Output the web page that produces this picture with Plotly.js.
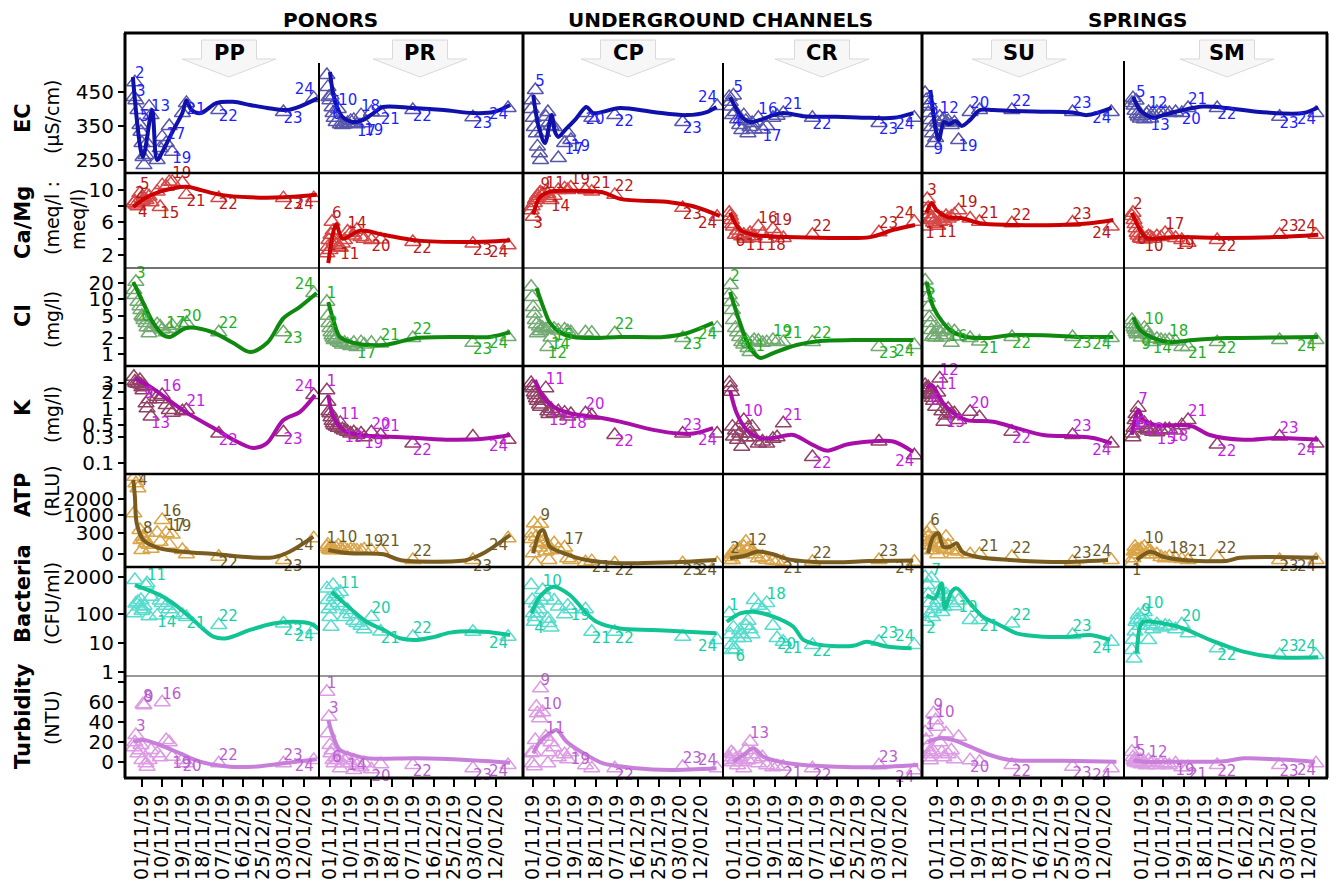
<!DOCTYPE html>
<html><head><meta charset="utf-8">
<script src="https://cdn.plot.ly/plotly-3.0.1.min.js"></script>
<style>html,body{margin:0;padding:0;background:#fff}</style>
</head><body><div id="chart" style="width:1330px;height:880px"></div>
<script>
// ================= DATA =================
var dateLabels = ['01/11/19','10/11/19','19/11/19','18/11/19','07/11/19','16/12/19','25/12/19','03/01/20','12/01/20'];
var dateTickPos = [0,1,2,3,4,5,6,7,8];

// sample positions (samples 1..24) on the date axis, per site
var xPP = [-0.4,-0.35,-0.3,-0.2,-0.1,-0.05,0.0,0.05,0.1,0.2,0.25,0.35,0.45,0.75,0.9,1.0,1.2,1.35,1.5,2.0,2.2,3.8,7.0,8.5];
var xPR = [-0.15,-0.1,-0.05,0.0,0.05,0.1,0.15,0.2,0.3,0.4,0.5,0.6,0.7,0.85,1.0,1.15,1.3,1.5,1.65,2.0,2.45,4.0,6.9,8.6];
var xCP = [-0.1,-0.05,0.0,0.05,0.1,0.15,0.2,0.3,0.35,0.45,0.6,0.7,0.75,0.85,1.0,1.2,1.5,1.65,1.8,2.5,2.8,3.9,7.15,8.8];
var xCR = [-0.2,-0.15,-0.1,-0.05,0.0,0.1,0.2,0.3,0.4,0.5,0.6,0.7,0.8,0.9,1.0,1.2,1.4,1.6,1.9,2.1,2.4,3.8,7.0,8.7];
var xSU = [-0.55,-0.5,-0.45,-0.4,-0.35,-0.3,-0.25,-0.2,-0.15,-0.05,0.05,0.15,0.25,0.35,0.45,0.55,0.7,0.85,1.05,1.6,2.05,3.6,6.5,8.35];
var xSM = [-0.5,-0.45,-0.4,-0.35,-0.3,-0.25,-0.2,-0.1,-0.05,0.1,0.2,0.3,0.4,0.5,0.7,0.9,1.1,1.3,1.6,1.9,2.2,3.6,6.6,8.35];

// ---- EC (µS/cm)
var ecPP = [435,479,426,397,353,333,300,259,235,265,300,407,382,250,285,318,300,350,274,388,418,397,391,432];
var ecPPlx = [-0.45,0.05,0.5,0.75,1.05,1.55,2.0,2.2,2.45,2.9,3.7,4.5,5.35,6.2,7.2,7.8,8.7];
var ecPPly = [494,259,397,250,279,338,388,426,397,388,418,421,412,403,397,407,432];
var ecPPlab = [2,3,5,13,17,19,21,22,23,24];
var ecPR = [500,465,435,426,440,405,388,374,362,400,355,353,355,359,365,368,355,382,358,391,390,397,376,403];
var ecPRlx = [0,0.15,0.4,0.65,1.1,1.6,2.1,2.55,4.0,5.5,6.9,7.9,8.7];
var ecPRly = [509,447,397,374,362,368,388,406,403,397,388,391,412];
var ecPRlab = [5,6,10,17,18,19,21,22,23,24];
var ecCP = [400,426,374,347,456,329,290,270,250,330,377,391,360,350,347,256,300,330,309,388,374,382,362,409];
var ecCPlx = [0.0,0.24,0.56,0.88,1.04,1.2,1.52,2.0,2.55,2.87,4.15,5.74,7.34,8.3,8.77];
var ecCPly = [441,353,300,382,333,318,338,368,406,388,403,391,382,391,406];
var ecCPlab = [5,17,19,20,22,23,24];
var ecCR = [435,421,407,382,440,391,370,353,338,382,365,329,347,359,340,374,340,350,374,380,388,374,359,374];
var ecCRlx = [-0.16,0.4,0.8,1.28,1.92,2.4,3.37,4.97,6.57,7.7,8.65];
var ecCRly = [435,377,362,368,382,388,379,377,374,374,388];
var ecCRlab = [4,5,16,17,21,22,23,24];
var ecSU = [447,426,407,388,415,368,347,329,300,315,360,377,365,370,360,365,353,360,309,391,397,397,391,391];
var ecSUlx = [-0.3,0.1,0.35,0.6,0.9,1.2,1.6,2.07,2.7,3.7,5.0,6.5,7.2,8.37];
var ecSUly = [456,309,362,355,365,350,368,397,397,394,392,390,382,403];
var ecSUlab = [1,5,9,12,19,20,22,23,24];
var ecSM = [418,432,410,395,425,385,378,372,380,370,385,391,372,388,391,391,391,388,391,388,403,403,377,388];
var ecSMlx = [-0.43,-0.11,0.53,1.0,1.96,2.93,4.06,5.66,7.74,8.46];
var ecSMly = [436,397,374,382,397,407,403,391,388,405];
var ecSMlab = [5,12,13,20,21,22,23,24];

// ---- Ca/Mg (meq/l : meq/l)
var caPP = [8.4,8.6,8.2,8.0,9.6,9.0,8.6,8.8,9.0,8.77,9.4,9.2,8.5,9.8,7.9,10.6,10.4,11.0,11.0,10.9,9.4,9.0,9.0,9.0];
var caPPlx = [-0.43,0.23,0.9,2.2,2.9,3.9,5.35,7.0,8.65];
var caPPly = [7.9,9.1,9.8,10.4,10.0,9.4,9.1,9.1,9.4];
var caPPlab = [2,4,5,15,19,21,22,23,24];
var caPR = [2.2,3.0,3.85,2.6,4.5,6.1,5.0,3.6,3.2,3.0,2.9,3.4,3.85,4.9,4.7,4.4,5.1,4.2,4.0,3.85,3.9,3.6,3.4,3.2];
var caPRlx = [-0.08,0.3,0.6,1.45,2.58,4.19,6.6,8.7];
var caPRly = [1.0,5.8,4.0,5.0,4.5,3.8,3.6,3.8];
var caPRlab = [1,6,11,14,20,22,23,24];
var caCP = [7.5,8.0,6.7,8.4,8.8,9.0,9.3,9.6,9.7,9.5,9.8,9.5,9.0,8.77,9.3,10.0,10.2,10.0,10.3,10.0,9.8,9.4,7.8,6.7];
var caCPlx = [0,0.32,0.8,1.75,3.35,4.15,6.54,7.66,8.93];
var caCPly = [7.0,9.1,9.8,9.9,9.7,8.9,8.5,8.0,6.8];
var caCPlab = [3,9,11,14,19,21,22,23,24];
var caCR = [7.2,6.8,6.3,5.8,5.5,4.5,5.0,4.6,4.3,4.5,4.0,4.3,4.7,4.1,4.3,5.5,4.6,4.0,5.2,4.5,4.1,4.5,4.8,6.1];
var caCRlx = [-0.16,0.32,0.96,2.56,4.97,6.57,7.69,8.73];
var caCRly = [7.2,5.1,4.5,4.2,4.1,4.2,5.1,5.7];
var caCRlab = [6,11,16,18,19,22,23,24];
var caSU = [5.5,7.5,8.9,7.8,7.0,6.5,6.3,6.6,6.0,5.8,5.6,6.1,6.5,6.2,6.8,6.5,6.7,7.0,7.5,6.5,6.1,5.9,6.0,5.5];
var caSUlx = [-0.48,-0.24,0,0.48,1.28,2.07,3.5,5.9,7.34,8.45];
var caSUly = [7.2,8.4,7.5,6.7,6.5,5.9,5.7,5.7,5.9,6.3];
var caSUlab = [1,3,11,19,21,22,23,24];
var caSM = [6.8,7.2,6.3,5.8,5.3,4.7,4.4,4.1,4.0,3.9,4.1,4.3,4.2,4.0,4.3,4.2,4.7,4.4,4.1,3.85,3.5,3.85,4.5,4.5];
var caSMlx = [-0.51,-0.11,0.21,1.65,4.05,6.46,8.46];
var caSMly = [7.2,5.1,4.1,4.2,4.1,4.2,4.5];
var caSMlab = [2,6,10,17,19,22,23,24];

// ---- Cl (mg/l)
var clPP = [14.8,12,21,9,7.5,6.4,5,4.7,4.2,3.7,3.1,2.4,3.0,3.5,3.2,2.8,2.5,2.9,3.3,3.4,3.7,2.5,2.5,13];
var clPPlx = [-0.43,0.07,0.56,1.06,1.39,2.2,3.5,4.5,5.35,6.2,7.0,7.8,8.65];
var clPPly = [20.7,8.5,3.7,2.2,2.05,3.0,2.5,1.6,1.09,1.6,4.5,7.2,13];
var clPPlab = [3,6,17,20,22,23,24];
var clPR = [9,5,3.7,3.0,2.5,2.2,2.0,1.8,1.9,1.7,1.6,1.5,1.6,1.5,1.4,1.6,1.35,1.65,1.5,1.6,1.55,1.96,1.6,2.05];
var clPRlx = [-0.08,0.16,0.48,1.13,2.58,4.19,6.6,7.73,8.7];
var clPRly = [8.9,4.2,2.05,1.6,1.46,1.96,2.05,2.05,2.5];
var clPRlab = [1,2,17,21,22,23,24];
var clCP = [17,11,7.2,5.5,4.2,3.5,2.4,3.2,2.6,3.0,2.8,1.35,3.1,2.0,2.9,2.7,2.8,2.6,2.5,2.5,2.45,2.4,1.96,3.0];
var clCPlx = [0.16,0.48,0.8,1.28,1.91,2.87,4.15,6.22,7.34,8.61];
var clCPly = [16,7.2,3.7,2.5,2.05,1.96,2.05,2.05,2.4,3.7];
var clCPlab = [12,14,15,22,23,24];
var clCR = [12,18.3,8.9,6.4,4.2,3.0,2.5,2.05,1.65,1.5,1.8,1.29,1.09,1.65,1.8,1.75,1.6,1.65,1.8,1.7,1.65,1.65,1.35,1.46];
var clCRlx = [-0.16,0.32,0.8,1.28,1.92,3.04,4.17,5.77,8.65];
var clCRly = [13.6,3.7,1.29,0.85,1.04,1.46,1.73,1.8,1.8];
var clCRlab = [2,8,11,19,21,22,23,24];
var clSU = [22,16,10.6,7.2,4.7,3.7,2.75,2.05,2.2,2.0,2.9,2.5,2.0,2.8,2.2,2.75,1.6,2.6,2.1,1.96,1.7,2.05,2.05,1.96];
var clSUlx = [-0.48,-0.16,0.32,0.8,1.44,2.4,3.5,5.1,6.7,8.45];
var clSUly = [20.7,7.2,3.7,2.5,2.05,1.96,2.2,2.2,2.05,2.05];
var clSUlab = [2,16,21,22,23,24];
var clSM = [4.2,3.5,3.1,2.8,2.5,2.3,2.9,2.4,2.0,3.0,2.6,2.2,1.9,1.65,1.9,1.8,1.75,1.8,1.7,1.35,1.35,1.65,1.8,1.8];
var clSMlx = [-0.43,-0.11,0.53,1.33,2.45,4.05,6.46,8.46];
var clSMly = [4.7,2.75,1.96,1.65,1.8,1.96,2.0,2.05];
var clSMlab = [9,10,14,18,21,22,24];

// ---- K (mg/l)
var kPP = [3.9,3.2,3.0,2.9,3.4,2.8,2.5,2.2,2.6,1.26,1.02,1.5,0.72,1.67,1.5,1.8,1.17,0.95,0.85,0.9,0.95,0.35,0.37,1.8];
var kPPlx = [-0.35,0.4,1.22,2.21,3.7,4.52,5.51,6.17,7.0,7.82,8.56];
var kPPly = [3.6,2.56,1.55,0.85,0.41,0.27,0.19,0.23,0.62,0.88,1.8];
var kPPlab = [9,13,16,21,22,23,24];
var kPR = [2.2,1.35,0.9,0.83,0.7,0.6,0.54,0.5,0.47,0.45,0.55,0.42,0.4,0.38,0.35,0.37,0.33,0.35,0.3,0.37,0.33,0.23,0.31,0.27];
var kPRlx = [-0.08,0.16,0.64,1.45,2.58,4.19,5.8,7.4,8.7];
var kPRly = [1.8,0.72,0.41,0.33,0.31,0.29,0.27,0.28,0.33];
var kPRlab = [1,11,13,19,20,21,22,24];
var kCP = [3.0,2.6,2.4,2.0,1.8,1.56,1.4,1.2,1.09,1.5,2.4,0.9,0.8,1.0,0.83,0.9,0.85,0.72,0.8,0.83,0.75,0.33,0.35,0.35];
var kCPlx = [0.08,0.48,0.96,1.75,3.35,4.15,5.74,7.0,7.66,8.61];
var kCPly = [3.4,1.67,1.09,0.83,0.67,0.58,0.41,0.35,0.35,0.44];
var kCPlab = [11,13,18,20,22,23,24];
var kCR = [3.0,2.5,2.07,0.47,0.31,0.4,0.27,0.35,0.2,0.62,0.3,0.45,0.35,0.47,0.3,0.23,0.25,0.23,0.28,0.3,0.54,0.13,0.25,0.14];
var kCRlx = [-0.16,0.16,0.64,1.28,1.92,2.88,3.69,4.49,5.45,6.57,7.69,8.65];
var kCRly = [2.2,0.83,0.41,0.29,0.29,0.33,0.23,0.17,0.22,0.25,0.25,0.16];
var kCRlab = [10,21,22,24];
var kSU = [2.75,2.4,2.2,2.5,2.0,1.9,1.8,1.6,1.4,1.09,2.0,3.6,0.9,0.58,0.75,1.0,0.8,0.83,0.62,0.88,0.7,0.38,0.33,0.23];
var kSUlx = [-0.48,-0.24,0.32,0.8,1.44,2.71,3.83,5.1,6.7,7.5,8.37];
var kSUly = [2.4,2.75,1.26,0.83,0.62,0.58,0.44,0.33,0.31,0.29,0.23];
var kSUlab = [6,11,12,15,20,22,23,24];
var kSM = [0.35,0.3,0.45,0.62,0.8,0.7,1.05,0.55,0.5,0.55,0.42,0.4,0.45,0.38,0.37,0.4,0.42,0.42,0.4,0.5,0.62,0.22,0.31,0.23];
var kSMlx = [-0.51,-0.19,0.05,0.69,1.97,2.45,3.25,4.86,6.46,8.46];
var kSMly = [0.33,0.95,0.62,0.5,0.5,0.47,0.33,0.27,0.29,0.27];
var kSMlab = [1,6,7,10,15,18,21,22,23,24];

// ---- ATP (RLU)
var atpPP = [1084,3886,3252,2810,380,132,12,200,150,80,300,60,20,300,100,759,285,60,250,12,0,-4,-21,165];
var atpPPlx = [-0.43,-0.35,-0.26,0.07,0.89,2.05,3.7,5.35,6.5,7.3,8.48];
var atpPPly = [3563,2140,620,132,23,4.4,0,-6,-6,4,200];
var atpPPlab = [4,8,16,17,19,22,23,24];
var atpPR = [37,60,20,12,30,10,20,15,25,50,15,10,20,8,15,12,10,8,15,10,12,-21,-21,165];
var atpPRlx = [-0.08,0.97,2.58,3.38,4.99,6.6,7.4,8.7];
var atpPRly = [12,0.6,0,-21,-35,-21,0.6,240];
var atpPRlab = [1,10,19,21,22,23,24];
var atpCP = [150,285,0.6,620,-52,200,80,30,600,100,5,60,-21,10,80,20,30,-10,-21,-40,-30,-52,-52,-52];
var atpCPlx = [0,0.32,0.48,0.8,1.44,2.55,4.15,5.74,7.34,8.77];
var atpCPly = [0.6,330,380,37,1,-21,-52,-45,-35,-21];
var atpCPlab = [9,17,21,22,23,24];
var atpCR = [-21,-5,0,-21,5,0,12,20,0,37,102,20,30,5,0,-10,-5,-20,-25,-30,-35,-35,-21,-35];
var atpCRlx = [-0.16,0.5,1.2,1.9,2.6,3.7,5.0,6.5,8.65];
var atpCRly = [-10,-2,5,0,-15,-35,-40,-30,-25];
var atpCRlab = [2,12,21,22,23,24];
var atpSU = [132,60,285,200,100,436,50,10,150,80,0,30,80,20,200,50,10,0,5,0,0,-4,-35,-21];
var atpSUlx = [-0.4,-0.16,0.08,0.32,0.64,0.96,1.2,1.91,3.5,5.1,6.7,8.2];
var atpSUly = [0.6,200,285,37,37,78,5,-4,-21,-35,-35,-21];
var atpSUlab = [6,21,22,23,24];
var atpSM = [-52,-10,5,37,10,0,12,5,20,37,0,10,5,0,0,-5,-10,-4,-10,-15,-21,-4,-21,-21];
var atpSMlx = [-0.27,0.37,1.01,1.97,4.05,4.7,8.46];
var atpSMly = [-21,4,-4,-21,-28,-8,-8];
var atpSMlab = [1,10,18,21,22,23,24];

// ---- Bacteria (CFU/ml)
var bacPP = [108,1566,240,270,186,316,130,150,200,1000,1200,85,410,90,300,250,200,150,108,95,80,42.6,48,28.6];
var bacPPlx = [-0.35,0.89,1.55,2.54,3.53,4.19,5.35,6.5,7.5,8.3,8.8];
var bacPPly = [1047,471,240,63,16.6,14.6,28.6,48,55,48,28.6];
var bacPPlab = [11,14,21,22,23,24];
var bacPR = [800,316,150,80,37,200,1047,400,500,250,600,190,80,140,100,60,50,40,30,80,25,16.6,24.8,16.6];
var bacPRlx = [0.08,0.97,1.77,2.58,3.38,4.19,5.0,5.8,7.4,8.7];
var bacPRly = [613,162,55,28.6,14.6,12.8,16,23,24.8,19];
var bacPRlab = [11,20,21,22,24];
var bacCP = [1047,316,108,55,80,240,108,150,300,700,410,70,50,35,300,186,100,200,150,150,24.8,24.8,16.6,12.8];
var bacCPlx = [-0.08,0.32,0.96,1.75,2.55,3.03,4.15,5.74,7.34,8.77];
var bacCPly = [108,410,916,471,108,55,32,28.6,24.8,21.7];
var bacCPlab = [4,10,19,21,22,24];
var bacCR = [108,20,8.6,5.7,35,6,15,28,20,15,40,60,30,20,316,200,150,250,40,15,11,8.6,11,8.6];
var bacCRlx = [-0.32,0.32,0.96,1.92,2.88,3.37,4.17,5.77,6.41,7.37,8.57];
var bacCRly = [55,108,123,83,37,12.8,8.6,8,11,7.5,6.5];
var bacCRlab = [1,6,18,20,21,22,23,24];
var bacSU = [2000,55,1047,500,250,108,1800,80,150,200,316,700,120,180,500,410,250,190,300,63,63,48,19,11];
var bacSUlx = [-0.48,-0.08,0.24,0.4,0.7,0.96,1.6,2.2,2.87,3.83,5.1,6.4,7.34,8.3];
var bacSUly = [471,362,1200,160,600,800,240,83,48,21.7,16.6,16.6,19,12.8];
var bacSUlab = [2,7,19,21,22,23,24];
var bacSM = [5.7,13,2.9,25,55,65,95,40,70,120,55,12.8,40,30,45,35,40,38,30,45,21.7,6.5,3.8,3.8];
var bacSMlx = [-0.27,-0.11,0.05,1.01,1.97,3.25,4.86,6.46,8.46];
var bacSMly = [4.4,37,55,48,32.5,12.8,5,3.2,3.2];
var bacSMlab = [9,10,20,22,23,24];

// ---- Turbidity (NTU)
var turPP = [15,20,27.3,9,12,17.3,2.3,58,57,-1,-4.4,2.3,12.3,9,5,60,22.3,20,5.6,2.3,-1,-1,-1,2.3];
var turPPlx = [-0.43,0.07,0.89,1.88,2.87,4.36,5.5,7.0,8.65];
var turPPly = [20.6,22.3,17.3,9,0.6,-4.4,-4.4,-1,3];
var turPPlab = [3,8,9,16,19,20,22,23,24];
var turPR = [70.6,29,45.6,17.3,9,12,2.3,-1,5,2.3,-6,-1,2,4,-1,-7.7,-3,-5,-1,-7,-2,-2.7,-6,-2.7];
var turPRlx = [-0.08,0.16,0.48,1.13,1.77,4.19,6.6,8.7];
var turPRly = [42.3,25.6,12.3,7.3,4,4,2.3,-0.4];
var turPRlab = [1,3,6,14,20,22,23,24];
var turCP = [9,-1,10,-4,22.3,55.6,49,44,74,50,25.6,-1,10,20,15,5,8,3,10,-3,-6,-6,-4.4,-6];
var turCPlx = [0,0.32,0.8,1.12,1.6,2.55,3.35,4.94,6.54,8.77];
var turCPly = [9,20.6,29,32.3,20.6,7.3,-1,-6,-7.7,-6];
var turCPlab = [9,10,11,19,22,23,24];
var turCR = [5,2,10,0,8,3,-3,5,0,-6,12.3,2,20.6,8,3,-1,5,-3,-5,-4,-4.4,-6,-3,-8];
var turCRlx = [0,0.48,0.96,1.44,2.24,3.37,4.97,6.57,8.89];
var turCRly = [0.6,7.3,14,5.6,0.6,-2.7,-4.4,-5,-2.7];
var turCRlab = [13,21,22,23,24];
var turSU = [30,22.3,15,5,10,2,8,12,49,42,35.6,20,10,5,29,8,12,3,25.6,2,0.6,-2.7,-4.4,-6];
var turSUlx = [-0.4,0.16,0.8,1.6,2.55,3.5,5.1,6.7,8.6];
var turSUly = [20.6,24,22.3,15.6,7.3,2.3,1.6,1.3,0.6];
var turSUlab = [1,9,10,20,22,23,24];
var turSM = [10.6,5,2,0,3,0,-1,2,-2,0,-3,2,-1,0,-3,-1,-2,-3,-1,-5,-5,-2.7,-2.7,-1];
var turSMlx = [-0.43,0.05,1.65,3.25,4.05,4.86,6.46,8.3];
var turSMly = [2.3,0.6,0.6,0.6,1.3,4,3,0.6];
var turSMlab = [1,5,12,19,21,22,23,24];

// y tick values / labels
var ecTicks = [250,350,450];
var caTicks = [2,4,6,8,10];
var caTickText = ['2','','6','','10'];
var clTicks = [1,2,5,10,20];
var kTicks = [0.1,0.3,0.5,1,2,3];
var atpTicks = [0,300,1000,2000];
var bacTicks = [1,10,100,2000];
var turTicks = [0,20,40,60,80];
var turTickText = ['0','20','40','60',''];

var siteNames = ['PP','PR','CP','CR','SU','SM'];
var groupNames = ['PONORS','UNDERGROUND CHANNELS','SPRINGS'];
var rowTitles = ['EC','Ca/Mg','Cl','K','ATP','Bacteria','Turbidity'];

// ================= LAYOUT / STYLE =================
const W = 1330, H = 880;
const FONT = 'DejaVu Sans';
const PX = x => x / W, PY = y => 1 - y / H;
const rowKeys = ['ec','ca','cl','k','atp','bac','tur'];
const rowPx = [[33,173],[173,268],[268,366],[366,474],[474,567],[567,676],[676,778]];
const colPx = [[125,319],[319,523],[523,723],[723,922],[922,1124],[1124,1327]];
const colRange = [[-0.84,8.76],[-0.53,9.32],[-0.49,9.08],[-0.50,9.07],[-0.70,8.96],[-0.88,8.88]];
const ssqrt = v => v < 0 ? -Math.sqrt(-v) : Math.sqrt(v);
const ident = v => v;
const rowType = ['linear','linear','log','log','linear','log','linear'];
const rowFn = [ident, ident, ident, ident, ssqrt, ident, ident];
const rowRange = [[211.8,623.5],[0.4,12.09],[-0.219,1.572],[-1.2,0.788],[-10.2,64.5],[-0.15,3.648],[-15.7,86.3]];
const rowTickVals = [ecTicks, caTicks, clTicks, kTicks, atpTicks.map(ssqrt), bacTicks, turTicks];
const rowTickText = [ecTicks.map(String), caTickText, clTicks.map(String), kTicks.map(String), atpTicks.map(String), bacTicks.map(String), turTickText];
const lineCol = ['#1010aa','#cc0000','#0f8a0f','#a80fa8','#7a5c1e','#12c494','#c77fd9'];
const markCol = ['#3c3a9c','#d02828','#5a9c5a','#80204c','#d4962a','#3cd6c6','#d88ae0'];
const textCol = ['#1f1fff','#b81818','#1fb01f','#c41ee4','#6b5a2a','#17cfa6','#b95fd0'];

const disp = (r, v) => {
  const f = rowFn[r](v);
  return rowType[r] === 'log' ? Math.log10(f) : f;
};
function interp(xs, ys, x) {
  if (x <= xs[0]) return ys[0];
  if (x >= xs[xs.length-1]) return ys[ys.length-1];
  for (let i = 1; i < xs.length; i++) {
    if (x <= xs[i]) { const t = (x - xs[i-1]) / (xs[i] - xs[i-1]); return ys[i-1] + t * (ys[i] - ys[i-1]); }
  }
  return ys[ys.length-1];
}

const traces = [];
const layout = {
  width: W, height: H, margin: {l:0, r:0, t:0, b:0},
  paper_bgcolor: '#ffffff', plot_bgcolor: 'rgba(0,0,0,0)',
  showlegend: false, hovermode: false,
  font: {family: FONT, color: '#000'},
  shapes: [], annotations: []
};

for (let r = 0; r < 7; r++) {
  for (let c = 0; c < 6; c++) {
    const idx = r * 6 + c + 1;
    const sfx = idx > 1 ? String(idx) : '';
    const key = rowKeys[r] + siteNames[c];
    const vals = window[key], lx = window[key + 'lx'], ly = window[key + 'ly'], lab = window[key + 'lab'];
    const xs = window['x' + siteNames[c]];
    const f = rowFn[r];
    // markers
    traces.push({
      type: 'scatter', mode: 'markers', xaxis: 'x' + sfx, yaxis: 'y' + sfx,
      x: xs, y: vals.map(f),
      marker: {symbol: 'triangle-up-open', size: 14, color: markCol[r], line: {width: 1.5, color: markCol[r]}},
      opacity: 0.85
    });
    // smoothed line
    traces.push({
      type: 'scatter', mode: 'lines', xaxis: 'x' + sfx, yaxis: 'y' + sfx,
      x: lx, y: ly.map(f),
      line: {color: lineCol[r], width: 4, shape: 'spline', smoothing: 0.9}
    });
    // sample labels: above/below the trend line, left side near the right edge
    const lyd = ly.map(v => disp(r, v));
    const pos = lab.map(s => {
      const xv = xs[s-1], yv = disp(r, vals[s-1]);
      const vert = yv >= interp(lx, lyd, xv) ? 'top' : 'bottom';
      const hor = xv > 7.8 ? 'left' : 'right';
      return vert + ' ' + hor;
    });
    traces.push({
      type: 'scatter', mode: 'text', xaxis: 'x' + sfx, yaxis: 'y' + sfx, cliponaxis: false,
      x: lab.map(s => xs[s-1]), y: lab.map(s => f(vals[s-1])), text: lab.map(String),
      textposition: pos, textfont: {family: FONT, size: 15, color: textCol[r]}
    });
    const last = r === 6, first = c === 0;
    layout['xaxis' + sfx] = {
      domain: [PX(colPx[c][0]), PX(colPx[c][1])], range: colRange[c], anchor: 'y' + sfx,
      showgrid: false, zeroline: false, showline: false, fixedrange: true,
      tickmode: 'array', tickvals: dateTickPos, ticktext: dateLabels,
      showticklabels: last, ticks: last ? 'outside' : '', ticklen: 8, tickwidth: 2, tickcolor: '#000',
      tickangle: -90, tickfont: {family: FONT, size: 19, color: '#000'}
    };
    layout['yaxis' + sfx] = {
      domain: [PY(rowPx[r][1]), PY(rowPx[r][0])], range: rowRange[r], type: rowType[r], anchor: 'x' + sfx,
      showgrid: false, zeroline: false, showline: false, fixedrange: true,
      tickmode: 'array', tickvals: rowTickVals[r], ticktext: rowTickText[r],
      showticklabels: first, ticks: first ? 'outside' : '', ticklen: 6, tickwidth: 2, tickcolor: '#000',
      tickfont: {family: FONT, size: 20, color: '#000'}
    };
  }
}

// frame lines
function hline(y, x0, x1, w, col) { layout.shapes.push({type:'line', xref:'paper', yref:'paper', x0:PX(x0), x1:PX(x1), y0:PY(y), y1:PY(y), line:{color:col, width:w}, layer:'above'}); }
function vline(x, y0, y1, w, col) { layout.shapes.push({type:'line', xref:'paper', yref:'paper', x0:PX(x), x1:PX(x), y0:PY(y0), y1:PY(y1), line:{color:col, width:w}, layer:'above'}); }
[173,366,474,567].forEach(y => hline(y, 125, 1327, 2.5, '#000'));
hline(268, 125, 1327, 1.5, '#444');
hline(676, 125, 1327, 1.5, '#777');
hline(33, 124, 1328, 3, '#000');
hline(778, 124, 1328, 3, '#000');
[125,523,922,1327].forEach(x => vline(x, 33, 778, 3, '#000'));
vline(319, 63, 778, 2, '#000');
vline(723, 63, 778, 2, '#000');
vline(1124, 61, 778, 2, '#000');

// header arrows
const arrowCx = [229, 420, 628, 822, 1019, 1227];
arrowCx.forEach((cx, i) => {
  const p = `M ${PX(cx-27.5)},${PY(40)} L ${PX(cx+27.5)},${PY(40)} L ${PX(cx+27.5)},${PY(59)} L ${PX(cx+47)},${PY(59)} L ${PX(cx)},${PY(77)} L ${PX(cx-47)},${PY(59)} L ${PX(cx-27.5)},${PY(59)} Z`;
  layout.shapes.push({type:'path', xref:'paper', yref:'paper', path:p, fillcolor:'#f7f7f7', line:{color:'#d9d9d9', width:1}, layer:'below'});
  layout.annotations.push({xref:'paper', yref:'paper', x:PX(cx), y:PY(53), text:'<b>'+siteNames[i]+'</b>', showarrow:false, xanchor:'center', yanchor:'middle', font:{family:FONT, size:21, color:'#000'}});
});

// group titles
const groupCx = [330, 720, 1137];
groupNames.forEach((g, i) => layout.annotations.push({xref:'paper', yref:'paper', x:PX(groupCx[i]), y:PY(20), text:'<b>'+g+'</b>', showarrow:false, xanchor:'center', yanchor:'middle', font:{family:FONT, size:20, color:'#000'}}));

// row titles (rotated)
const rowLab = [
  [['<b>'+rowTitles[0]+'</b>',23,118,21],['(µS/cm)',52,117,19]],
  [['<b>'+rowTitles[1]+'</b>',23,223,21],['(meq/l :',52,218,19],['meq/l)',78,220,19]],
  [['<b>'+rowTitles[2]+'</b>',23,316,21],['(mg/l)',52,320,19]],
  [['<b>'+rowTitles[3]+'</b>',23,408,21],['(mg/l)',52,415,19]],
  [['<b>'+rowTitles[4]+'</b>',23,495,21],['(RLU)',52,491,19]],
  [['<b>'+rowTitles[5]+'</b>',23,594,21],['(CFU/ml)',52,604,19]],
  [['<b>'+rowTitles[6]+'</b>',23,716,21],['(NTU)',52,718,19]]
];
rowLab.forEach(arr => arr.forEach(([t,x,y,s]) => layout.annotations.push({xref:'paper', yref:'paper', x:PX(x), y:PY(y), text:t, textangle:-90, showarrow:false, xanchor:'center', yanchor:'middle', font:{family:FONT, size:s, color:'#000'}})));

Plotly.newPlot('chart', traces, layout, {staticPlot: true, displayModeBar: false});
</script>
</body></html>
